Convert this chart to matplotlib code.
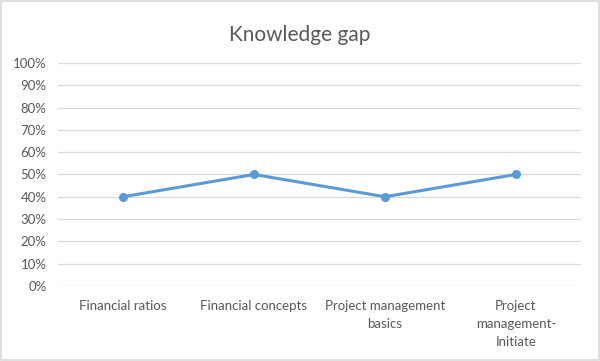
import matplotlib
matplotlib.use("Agg")
import matplotlib.pyplot as plt
from matplotlib.ticker import PercentFormatter
from matplotlib.patches import Rectangle

categories = ["Financial ratios", "Financial concepts", "Project management\nbasics",
              "Project\nmanagement-\nInitiate"]
gap = [40, 50, 40, 50]

plt.rcParams['font.family'] = ['Lato', 'DejaVu Sans']
txt = '#595959'

fig = plt.figure(figsize=(6, 3.61), dpi=100)
ax = fig.add_axes([0.096, 0.208, 0.873, 0.6175])

x = range(len(categories))
ax.plot(x, gap, color='#5B9BD5', lw=2.2, marker='o', ms=5.5, zorder=3)

ax.set_xlim(-0.5, len(categories) - 0.5)
ax.set_ylim(0, 100)
ax.set_yticks(range(0, 101, 10))
ax.yaxis.set_major_formatter(PercentFormatter(decimals=0))
ax.set_xticks(list(x))
ax.set_xticklabels(categories, linespacing=1.6)
ax.grid(axis='y', color='#D9D9D9', lw=0.9)
ax.set_axisbelow(True)
for s in ax.spines.values():
    s.set_visible(False)
ax.tick_params(length=0, labelsize=9.5, colors=txt)
ax.tick_params(axis='y', pad=8)
ax.tick_params(axis='x', pad=10)

fig.suptitle("Knowledge gap", y=0.93, fontsize=15, color=txt)
fig.patches.append(Rectangle((0.002, 0.003), 0.996, 0.994, transform=fig.transFigure,
                             fill=False, edgecolor='#D9D9D9', lw=1.2))

fig.savefig("out.png", dpi=100, facecolor='white')
